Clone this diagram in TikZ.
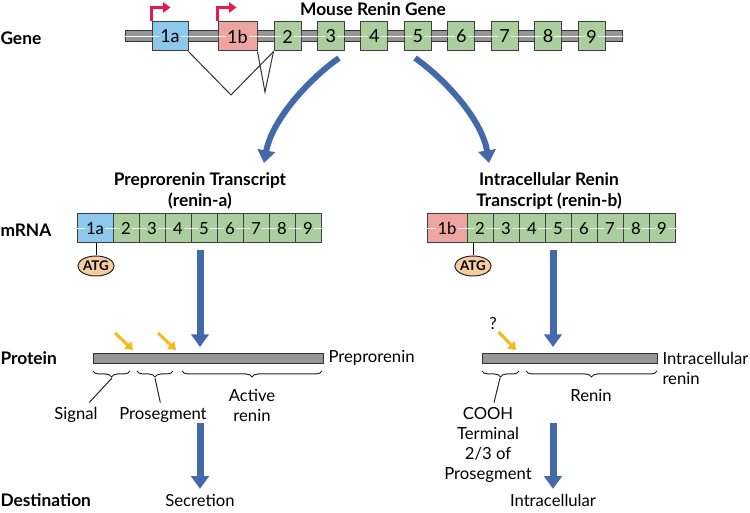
\documentclass[tikz,border=0pt]{standalone}
\usepackage{fontspec}
\setmainfont{Lato}
\usetikzlibrary{arrows.meta,positioning,decorations.pathreplacing,shapes.geometric}

\definecolor{exongreen}{RGB}{170,206,158}
\definecolor{exonblue}{RGB}{140,200,236}
\definecolor{exonpink}{RGB}{238,165,160}
\definecolor{atgpeach}{RGB}{245,205,160}
\definecolor{arrowblue}{RGB}{66,106,170}
\definecolor{cutyellow}{RGB}{250,185,20}
\definecolor{promred}{RGB}{232,25,80}
\definecolor{bargray}{RGB}{150,150,150}

\tikzset{every picture/.style={line width=0.75pt},
  exon/.style={draw=black!75, inner sep=0pt, minimum height=21.75pt},
  numlab/.style={inner sep=0.8pt},
  genenum/.style={numlab, font=\fontsize{13.5}{15}\selectfont},
  rowlab/.style={anchor=west, inner sep=0pt, font=\fontsize{13}{15}\bfseries},
  titlab/.style={align=center, inner sep=0pt, font=\fontsize{13}{16}\bfseries},
  atg/.style={ellipse, draw=black!85, fill=atgpeach, inner sep=0pt, minimum width=26pt, minimum height=15pt, font=\fontsize{10}{11}\bfseries},
  bar/.style={draw=black!80, fill=bargray, inner sep=0pt, minimum height=7.5pt},
  brace/.style={decorate, decoration={brace, mirror, amplitude=4.5pt}, draw=black!85},
  promoter/.style={draw=promred, line width=2.25pt, -{Triangle[width=7.5pt,length=5.5pt]}},
  curvearrow/.style={draw=arrowblue, line width=4.5pt, -{Triangle[width=13pt,length=9.5pt]}},
  bluearrow/.style={draw=arrowblue, line width=5.25pt, -{Triangle[width=13pt,length=9.5pt]}},
  cutarrow/.style={draw=cutyellow, line width=2.25pt, -{Triangle[width=7.5pt,length=5.5pt]}}
}

\begin{document}
\begin{tikzpicture}[x=0.75pt,y=0.75pt,yscale=-1,xscale=1,font=\fontsize{12.5}{15}\selectfont]
\path[use as bounding box] (0,0) rectangle (750,513);

% Row labels
\node[rowlab] (genelab) at (0,38) {Gene};
\node[rowlab] (mrnalab) at (0,230) {mRNA};
\node[rowlab] (protlab) at (0,358) {Protein};
\node[rowlab] (destlab) at (0,500) {Destination};

% Gene
\node[titlab] (genetitle) at (373,9) {Mouse Renin Gene};
%Shape: Rectangle (backbone)
\node[bar, minimum width=372.75pt, minimum height=8.25pt] (backbone) at (373.5,36.5) {};
\node[exon, fill=exonblue, minimum width=27pt] (g1a) at (170,36.5) {};
\node[exon, fill=exonpink, minimum width=29.25pt] (g1b) at (237.5,36.5) {};
\foreach \i in {2,...,9}{
  \pgfmathsetmacro{\cx}{287.5+43.43*(\i-2)}
  \node[exon, fill=exongreen, minimum width=20.25pt] (g\i) at (\cx,36.5) {};
}
\draw[white, line width=1pt] (backbone.west) -- (backbone.east);
\node[genenum, fill=exonblue] (g1an) at (g1a) {1a};
\node[genenum, fill=exonpink] (g1bn) at (g1b) {1b};
\foreach \i in {2,...,9}
  \node[genenum, fill=exongreen] (g\i n) at (g\i) {\i};

% Promoter arrows
\draw[promoter] (g1a.north west) -- ++(0,-14) -- ++(19,0);
\draw[promoter] (g1b.north west) -- ++(0,-14) -- ++(19,0);

% Splicing lines
\coordinate (spl1) at (231,95);
\coordinate (spl2) at (265,92);
\draw[black!80] (g1a.south east) -- (spl1) -- (g2.south west);
\draw[black!80] (g1b.south east) -- (spl2) -- (g2.south west);

% Curved arrows
\coordinate (curvL) at (339,58);
\coordinate (curvLend) at (264,163);
\coordinate (curvR) at (415,58);
\coordinate (curvRend) at (489,163);
\draw[curvearrow] (curvL) .. controls (308,80) and (272,120) .. (curvLend);
\draw[curvearrow] (curvR) .. controls (446,80) and (482,120) .. (curvRend);

% Transcript titles
\node[titlab] (titleA) at (200,191) {Preprorenin Transcript\\(renin-a)};
\node[titlab] (titleB) at (549,191) {Intracellular Renin\\Transcript (renin-b)};

% mRNA renin-a
\node[exon, fill=exonblue, minimum width=27pt] (a1a) at (95,228.5) {};
\foreach \i in {2,...,9}{
  \pgfmathsetmacro{\cx}{126+26*(\i-2)}
  \node[exon, fill=exongreen, minimum width=19.5pt] (a\i) at (\cx,228.5) {};
}
\draw[white, line width=1pt] (a1a.west) -- (a9.east);
\node[numlab, fill=exonblue] (a1an) at (a1a) {1a};
\foreach \i in {2,...,9}
  \node[numlab, fill=exongreen] (a\i n) at (a\i) {\i};
\node[atg] (atgA) at (96,266) {ATG};
\draw (atgA.north) -- (atgA.north |- a1a.south);

% mRNA renin-b
\node[exon, fill=exonpink, minimum width=30pt] (b1b) at (447,228.5) {};
\foreach \i in {2,...,9}{
  \pgfmathsetmacro{\cx}{480+26*(\i-2)}
  \node[exon, fill=exongreen, minimum width=19.5pt] (b\i) at (\cx,228.5) {};
}
\draw[white, line width=1pt] (b1b.west) -- (b9.east);
\node[numlab, fill=exonpink] (b1bn) at (b1b) {1b};
\foreach \i in {2,...,9}
  \node[numlab, fill=exongreen] (b\i n) at (b\i) {\i};
\node[atg] (atgB) at (473,266) {ATG};
\draw (atgB.north) -- (atgB.north |- b2.south);

% Translation arrows
\coordinate (transA) at (200,250);
\coordinate (transAend) at (200,347);
\coordinate (transB) at (553,250);
\coordinate (transBend) at (553,347);
\draw[bluearrow] (transA) -- (transAend);
\draw[bluearrow] (transB) -- (transBend);

% Protein preprorenin
\node[bar, minimum width=172.5pt] (protA) at (208,359) {};
\node[anchor=west, inner sep=0pt] (preproLab) at (328,358) {Preprorenin};
\coordinate (cut1) at (133,350);
\coordinate (cut2) at (176,350);
\draw[cutarrow] (115,333) -- (cut1);
\draw[cutarrow] (158,333) -- (cut2);
\draw[brace] (93,371) -- (130,371);
\draw[brace] (137,371) -- (173,371);
\draw[brace] (182,371) -- (322,371);
\node (signal) at (76,415) {Signal};
\node (proseg) at (163,415) {Prosegment};
\node[align=center] (activeRenin) at (252,405) {Active\\renin};
\coordinate (sigTip) at (112,378);
\coordinate (proTip) at (155,378);
\draw[black!85] (sigTip) -- ([xshift=10pt]signal.north);
\draw[black!85] (proTip) -- ([xshift=-2pt]proseg.north);

% Protein intracellular renin
\node[bar, minimum width=131.25pt] (protB) at (569.5,358.5) {};
\node[anchor=west, align=left, inner sep=0pt] (intraLab) at (662,368) {Intracellular\\renin};
\node[inner sep=1pt] (qmark) at (493,324) {?};
\coordinate (cut3) at (516,350);
\draw[cutarrow] (qmark.south east) -- (cut3);
\draw[brace] (482,371) -- (519,371);
\draw[brace] (526,371) -- (657,371);
\node (renin) at (591,395) {Renin};
\node[align=center] (cooh) at (488,445) {COOH\\Terminal\\2/3 of\\Prosegment};
\coordinate (coohTip) at (500,378);
\draw[black!85] (coohTip) -- ([xshift=4.5pt]cooh.north);

% Destination
\node (secretion) at (200,500) {Secretion};
\node (intracell) at (553,500) {Intracellular};
\coordinate (destA) at (200,423);
\coordinate (destB) at (553,423);
\draw[bluearrow] (destA) -- (secretion.north);
\draw[bluearrow] (destB) -- (intracell.north);

\end{tikzpicture}
\end{document}
